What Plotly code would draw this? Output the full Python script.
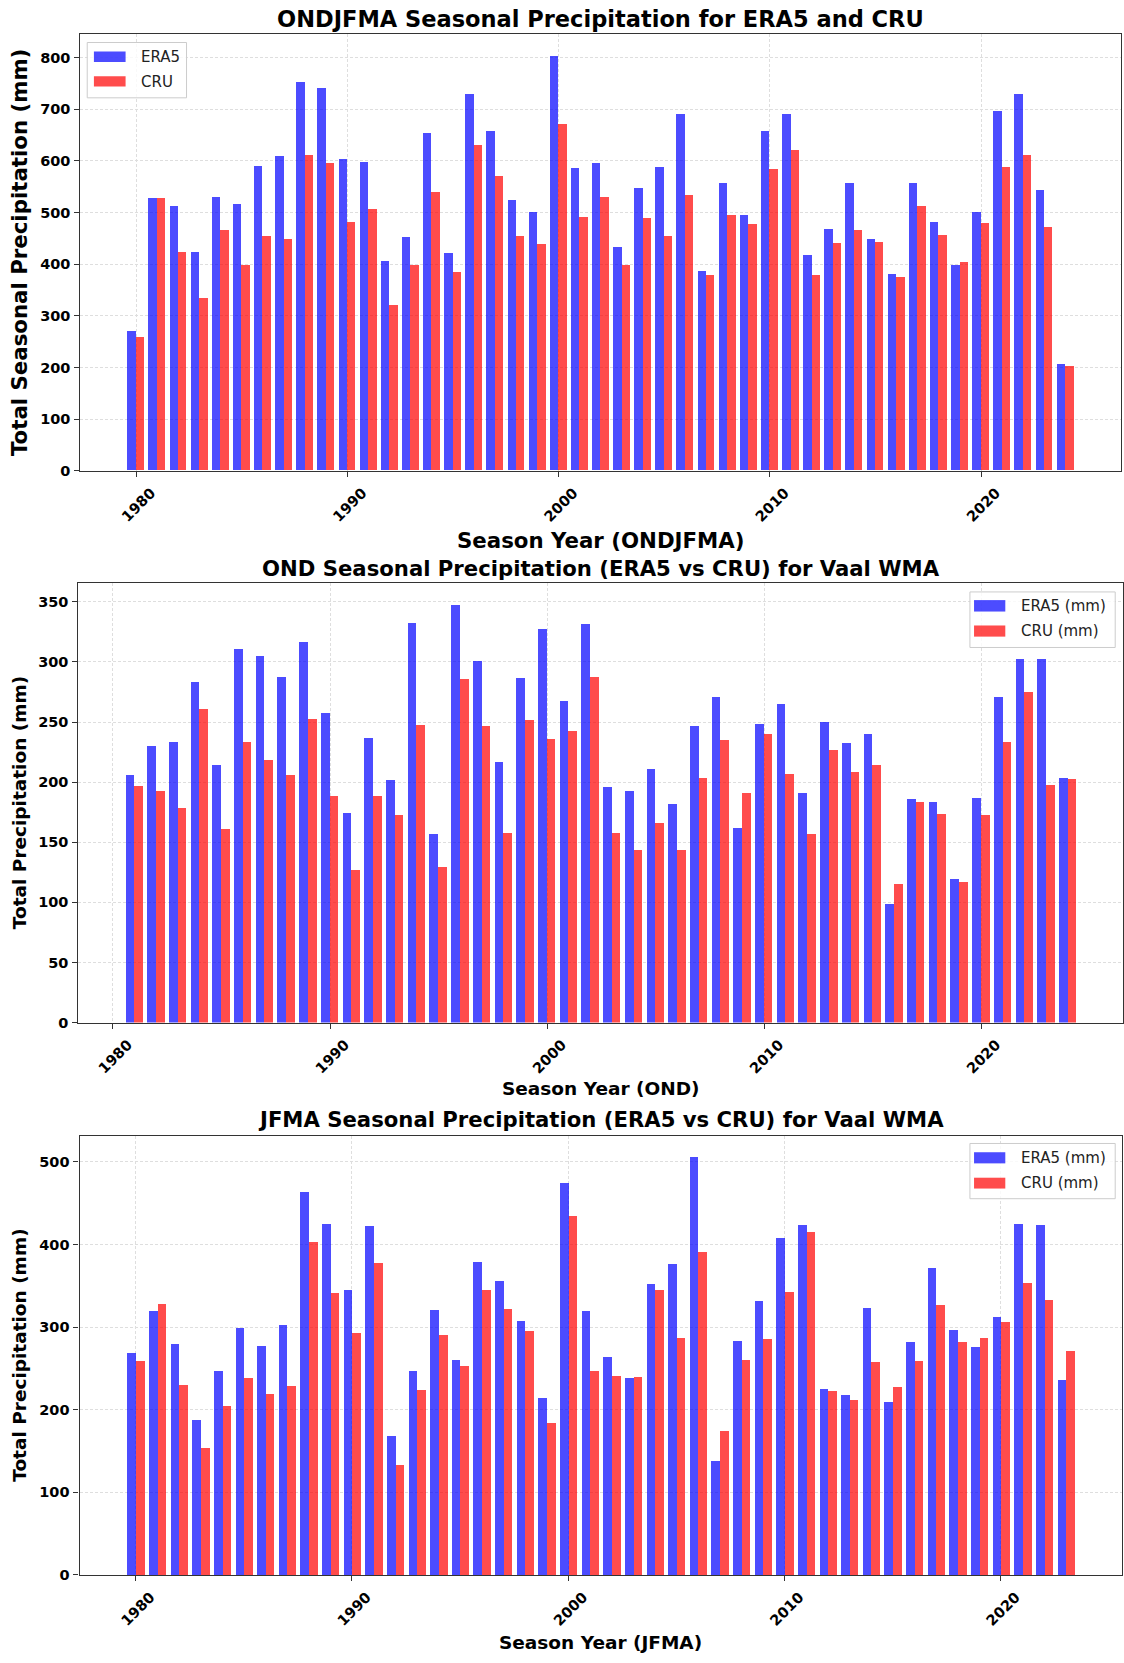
import plotly.graph_objects as go

W, H = 1124, 1663

# ---- ONDJFMA season totals (mm) ----
years_ondjfma = list(range(1980, 2025))
era5_ondjfma = [270, 527, 512, 423, 529, 515, 590, 608, 753, 740,
                603, 598, 405, 451, 654, 420, 728, 657, 524, 501,
                803, 585, 595, 433, 547, 588, 690, 386, 557, 494,
                657, 690, 417, 468, 557, 448, 381, 557, 481, 397,
                501, 695, 728, 542, 206]
cru_ondjfma = [258, 527, 423, 334, 466, 397, 453, 448, 611, 596,
               481, 506, 321, 397, 540, 384, 631, 571, 453, 438,
               671, 491, 529, 397, 489, 453, 534, 378, 495, 478,
               583, 621, 378, 440, 465, 443, 374, 511, 456, 404,
               479, 588, 611, 471, 203]

# ---- OND season totals (mm) ----
years_ond = list(range(1981, 2025))
era5_ond = [206, 230, 234, 284, 215, 311, 305, 288, 317, 258,
            175, 237, 202, 333, 157, 348, 301, 217, 287, 328,
            268, 332, 196, 193, 211, 182, 247, 271, 162, 249,
            265, 191, 250, 233, 240, 99, 186, 184, 120, 187,
            271, 303, 303, 204]
cru_ond = [197, 193, 179, 261, 161, 234, 219, 206, 253, 189,
           127, 189, 173, 248, 130, 286, 247, 158, 252, 236,
           243, 288, 158, 144, 166, 144, 204, 235, 191, 240,
           207, 157, 227, 209, 215, 116, 184, 174, 117, 173,
           234, 275, 198, 203]

# ---- JFMA season totals (mm) ----
years_jfma = list(range(1980, 2024))
era5_jfma = [269, 320, 280, 188, 247, 299, 278, 303, 464, 426,
             345, 423, 169, 248, 321, 261, 380, 356, 308, 215,
             475, 320, 264, 239, 353, 377, 507, 139, 284, 332,
             408, 424, 226, 218, 324, 210, 283, 372, 297, 277,
             313, 426, 424, 237]
cru_jfma = [259, 329, 231, 154, 205, 239, 220, 229, 404, 342,
            294, 378, 134, 224, 291, 253, 345, 323, 296, 185,
            435, 248, 242, 240, 345, 288, 391, 175, 261, 286,
            343, 416, 223, 212, 258, 228, 259, 327, 283, 288,
            307, 354, 334, 272]

x_ticks = [1980, 1990, 2000, 2010, 2020]

ERA5_COLOR = "rgba(0,0,255,0.7)"
CRU_COLOR = "rgba(255,0,0,0.7)"
FONT = "DejaVu Sans"


def fx(px):
    return px / W


def fy(py):
    return 1 - py / H


panels = [
    dict(years=years_ondjfma, era5=era5_ondjfma, cru=cru_ondjfma,
         title="ONDJFMA Seasonal Precipitation for ERA5 and CRU", title_size=22.5, title_y=19,
         xtitle="Season Year (ONDJFMA)", xtitle_y=543,
         ytitle="Total Seasonal Precipitation (mm)", label_size=21.3,
         labels=("ERA5", "CRU"),
         xdom=(80.5, 1122.3), ydom=(34.5, 473), xrange=[1977.36, 2026.64],
         yrange=[0, 845], dtick=100,
         legend=dict(box=(87.3, 42.7, 186.7, 98.3), patch_x=(94, 125.7),
                     rows=[(51.7, 62.3, 57.3), (76.7, 87.0, 82.3)], text_x=139)),
    dict(years=years_ond, era5=era5_ond, cru=cru_ond,
         title="OND Seasonal Precipitation (ERA5 vs CRU) for Vaal WMA", title_size=21.2, title_y=571.5,
         xtitle="Season Year (OND)", xtitle_y=1094,
         ytitle="Total Precipitation (mm)", label_size=18.5,
         labels=("ERA5 (mm)", "CRU (mm)"),
         xdom=(78.5, 1124), ydom=(585.4, 1027.5), xrange=[1978.41, 2026.53],
         yrange=[0, 366], dtick=50,
         legend=dict(box=(970.8, 594.8, 1116.2, 650.6), patch_x=(974.9, 1006.2),
                     rows=[(603.0, 614.5, 609.0), (628.5, 639.7, 634.3)], text_x=1019.8)),
    dict(years=years_jfma, era5=era5_jfma, cru=cru_jfma,
         title="JFMA Seasonal Precipitation (ERA5 vs CRU) for Vaal WMA", title_size=21.2, title_y=1125,
         xtitle="Season Year (JFMA)", xtitle_y=1650,
         ytitle="Total Precipitation (mm)", label_size=18.5,
         labels=("ERA5 (mm)", "CRU (mm)"),
         xdom=(79.6, 1122.7), ydom=(1141, 1582.5), xrange=[1977.41, 2025.59],
         yrange=[0, 532], dtick=100,
         legend=dict(box=(970.8, 1149.0, 1116.2, 1204.5), patch_x=(974.9, 1006.2),
                     rows=[(1157.8, 1169.0, 1163.6), (1183.4, 1194.3, 1189.2)], text_x=1019.8)),
]

fig = go.Figure()
annotations = []
shapes = []

for i, p in enumerate(panels, start=1):
    xa = "x" if i == 1 else f"x{i}"
    ya = "y" if i == 1 else f"y{i}"

    # ERA5 bar sits left of the year, CRU right of it
    fig.add_trace(go.Bar(x=p["years"], y=p["era5"], name=p["labels"][0],
                         width=0.4, offset=-0.4, marker=dict(color=ERA5_COLOR, line=dict(width=0)),
                         xaxis=xa, yaxis=ya, showlegend=False))
    fig.add_trace(go.Bar(x=p["years"], y=p["cru"], name=p["labels"][1],
                         width=0.4, offset=0.0, marker=dict(color=CRU_COLOR, line=dict(width=0)),
                         xaxis=xa, yaxis=ya, showlegend=False))

    axis_common = dict(
        showline=True, linecolor="#333333", linewidth=1.2, mirror=True,
        ticks="outside", ticklen=5, tickwidth=1, tickcolor="#333333",
        showgrid=True, gridcolor="#dedede", gridwidth=0.8, griddash="3px,2px",
        zeroline=False,
        tickfont=dict(family=FONT, size=14.5, color="black", weight="bold"),
    )
    xkey = "xaxis" if i == 1 else f"xaxis{i}"
    ykey = "yaxis" if i == 1 else f"yaxis{i}"
    fig.update_layout(**{
        xkey: dict(axis_common, domain=[fx(p["xdom"][0]), fx(p["xdom"][1])],
                   anchor=ya, range=p["xrange"], tickmode="array", tickvals=x_ticks,
                   ticktext=[str(t) for t in x_ticks], tickangle=-45,
                   ticklabelshift=15, ticklabelstandoff=2),
        ykey: dict(axis_common, domain=[fy(p["ydom"][1]), fy(p["ydom"][0])],
                   anchor=xa, range=p["yrange"], dtick=p["dtick"], tick0=0,
                   ticklabelstandoff=1),
    })

    xc = fx((p["xdom"][0] + p["xdom"][1]) / 2)
    yc = fy((p["ydom"][0] + p["ydom"][1]) / 2)
    annotations.append(dict(text=p["title"], x=xc, y=fy(p["title_y"]), xref="paper", yref="paper",
                            xanchor="center", yanchor="middle", showarrow=False,
                            font=dict(family=FONT, size=p["title_size"], color="black", weight="bold")))
    annotations.append(dict(text=p["xtitle"], x=xc, y=fy(p["xtitle_y"]), xref="paper", yref="paper",
                            xanchor="center", yanchor="middle", showarrow=False,
                            font=dict(family=FONT, size=p["label_size"], color="black", weight="bold")))
    annotations.append(dict(text=p["ytitle"], x=fx(19.6), y=yc, xref="paper", yref="paper",
                            xanchor="center", yanchor="middle", showarrow=False, textangle=-90,
                            font=dict(family=FONT, size=p["label_size"], color="black", weight="bold")))

    # legend frame with colour patches
    lg = p["legend"]
    bx0, by0, bx1, by1 = lg["box"]
    shapes.append(dict(type="rect", xref="paper", yref="paper",
                       x0=fx(bx0), x1=fx(bx1), y0=fy(by1), y1=fy(by0),
                       fillcolor="rgba(255,255,255,0.8)", line=dict(color="#cccccc", width=1)))
    for (r0, r1, rt), color, label in zip(lg["rows"], (ERA5_COLOR, CRU_COLOR), p["labels"]):
        shapes.append(dict(type="rect", xref="paper", yref="paper",
                           x0=fx(lg["patch_x"][0]), x1=fx(lg["patch_x"][1]), y0=fy(r1), y1=fy(r0),
                           fillcolor=color, line=dict(width=0)))
        annotations.append(dict(text=label, x=fx(lg["text_x"]), y=fy(rt), xref="paper", yref="paper",
                                xanchor="left", yanchor="middle", showarrow=False,
                                font=dict(family=FONT, size=15, color="#222222")))

fig.update_layout(
    width=W, height=H,
    margin=dict(l=0, r=0, t=0, b=0),
    paper_bgcolor="white", plot_bgcolor="white",
    barmode="overlay", bargap=0,
    showlegend=False,
    annotations=annotations,
    shapes=shapes,
)

fig.write_html("out.html")
